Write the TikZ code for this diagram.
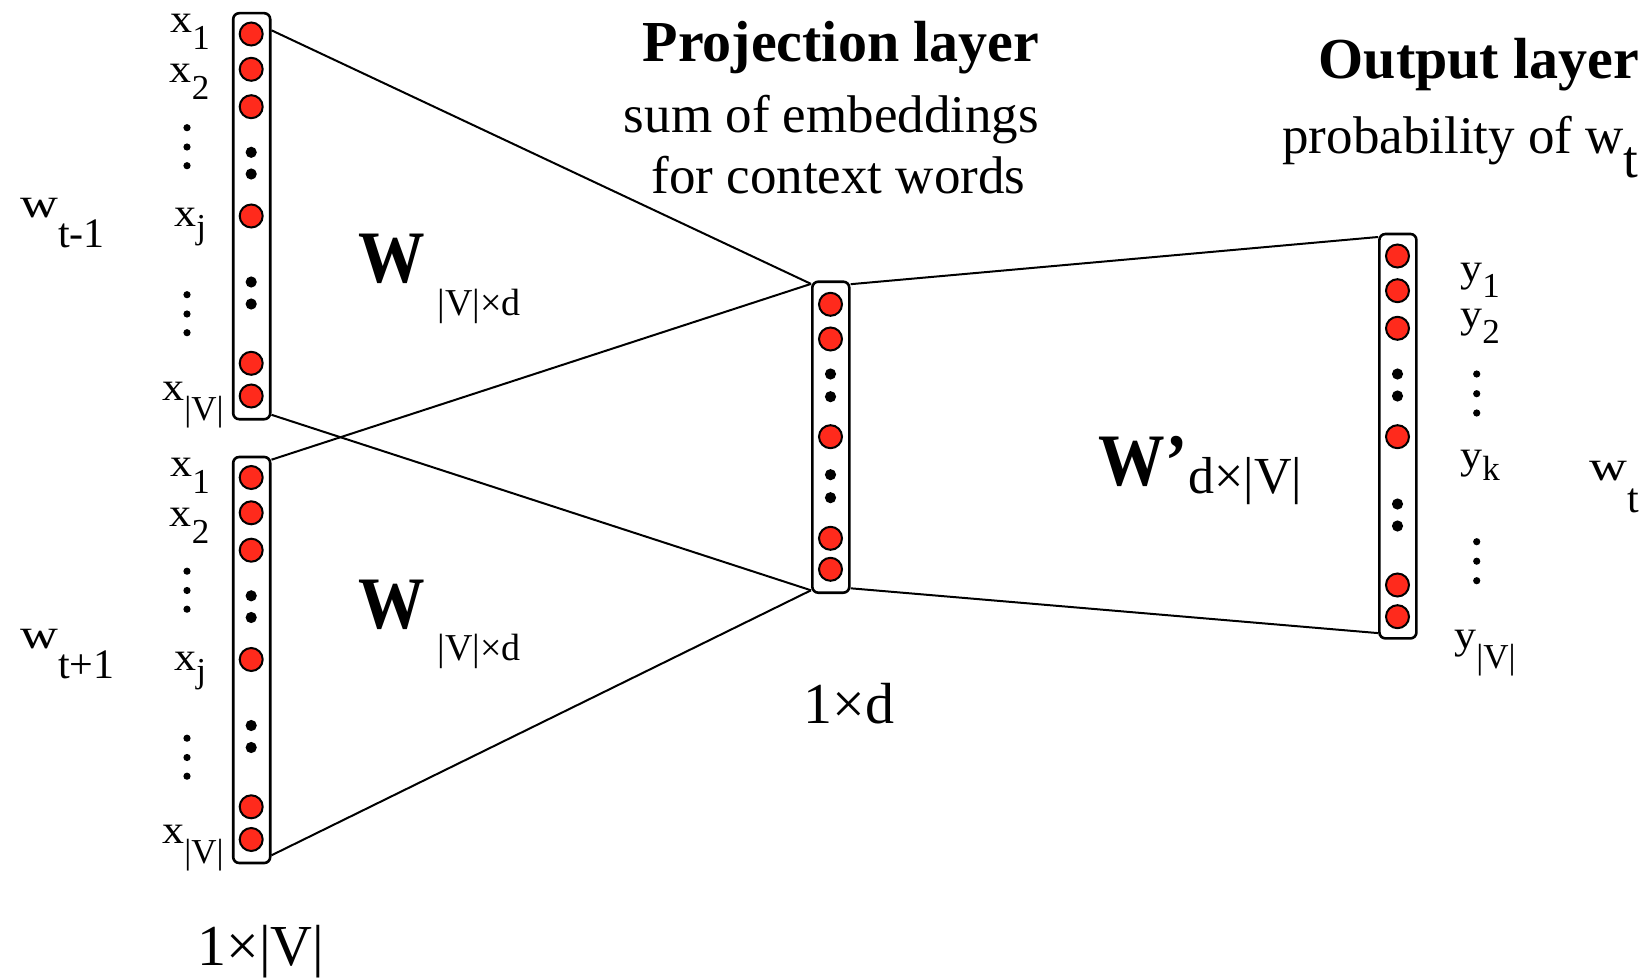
\documentclass[tikz,border=0pt]{standalone}
\usepackage{fontspec}
\usepackage{graphicx}
\setmainfont{Liberation Serif}
\usetikzlibrary{calc}
\definecolor{nred}{RGB}{255,42,28}
\newcommand{\lowsub}[2]{\raisebox{-#1}{#2}}
\newcommand{\labmain}[1]{{\fontsize{20}{20}\selectfont\scalebox{1.1}[1]{#1}}}
\newcommand{\wmain}[1]{\scalebox{1.25}[1]{#1}}
\begin{document}
\begin{tikzpicture}[x=0.5pt,y=-0.5pt,
  neuron/.style={circle, draw=black, line width=1pt, fill=nred, minimum size=11.5pt, inner sep=0},
  bdot/.style={circle, fill=black, minimum size=5.6pt, inner sep=0},
  sdot/.style={circle, fill=black, minimum size=3.6pt, inner sep=0},
  vecbox/.style={draw=black, line width=1.3pt, rounded corners=3pt, minimum width=18.5pt, inner sep=0},
  conn/.style={line width=1pt},
  lab/.style={anchor=base west, inner sep=0, font=\fontsize{17.5}{17.5}\selectfont},
  wlab/.style={anchor=base west, inner sep=0, font=\fontsize{21}{21}\selectfont},
  bigw/.style={anchor=base west, inner sep=0, font=\bfseries\fontsize{37}{37}\selectfont},
  title/.style={anchor=base, inner sep=0, font=\bfseries\fontsize{29}{29}\selectfont},
  sub/.style={anchor=base, inner sep=0, font=\fontsize{26.5}{26.5}\selectfont},
  dimlab/.style={anchor=base west, inner sep=0, font=\fontsize{29}{29}\selectfont},
]
\useasboundingbox (0,0) rectangle (1651,979);

% boxes
\node[vecbox, minimum height=203pt] (b1) at (251.7,216.2) {};
\node[vecbox, minimum height=203pt] (b2) at (251.7,660) {};
\node[vecbox, minimum height=155.5pt] (bm) at (830.8,437.2) {};
\node[vecbox, minimum height=202.2pt] (bo) at (1397.9,436.2) {};

% input units
\foreach \i/\y in {1/34,2/69.3,3/106.7,4/216,5/363.3,6/396}{
  \node[neuron] (u\i) at (251.2,\y) {};
  \node[neuron] (l\i) at (251.2,\y+443.5) {};
}
\foreach \i/\y in {1/152.3,2/174,3/282,4/304}{
  \node[bdot] (ud\i) at (251.2,\y) {};
  \node[bdot] (ld\i) at (251.2,\y+443.5) {};
}
% projection units
\foreach \i/\y in {1/304.3,2/339,3/436.7,4/538.3,5/569.3}{
  \node[neuron] (m\i) at (830.5,\y) {};
}
\foreach \i/\y in {1/374,2/396.7,3/474.7,4/497.7}{
  \node[bdot] (md\i) at (830.5,\y) {};
}
% output units
\foreach \i/\y in {1/256,2/290.7,3/328.3,4/436.7,5/585,6/616.7}{
  \node[neuron] (o\i) at (1397.5,\y) {};
}
\foreach \i/\y in {1/374,2/396,3/504,4/526}{
  \node[bdot] (od\i) at (1397.5,\y) {};
}

% label ellipsis dots
\foreach \i/\y in {1/127.7,2/147,3/165.7,4/294.7,5/314,6/332.7}{
  \node[sdot] (ue\i) at (187,\y) {};
  \node[sdot] (le\i) at (187,\y+443.5) {};
}
\foreach \i/\y in {1/374,2/393.7,3/413,4/541.7,5/561.2,6/580.7}{
  \node[sdot] (oe\i) at (1476.7,\y) {};
}

% connectors
\draw[conn] ($(b1.north east)+(0,18.4)$) -- ($(bm.north west)+(0,3.5)$);
\draw[conn] ($(b1.south east)+(0,-5.7)$) -- ($(bm.south west)+(0,-3.7)$);
\draw[conn] ($(b2.north east)+(0,4)$) -- ($(bm.north west)+(0,3.5)$);
\draw[conn] ($(b2.south east)+(0,-9)$) -- ($(bm.south west)+(0,-3.7)$);
\draw[conn] ($(bm.north east)+(0,3.8)$) -- ($(bo.north west)+(0,4.3)$);
\draw[conn] ($(bm.south east)+(0,-5.7)$) -- ($(bo.south west)+(0,-6.6)$);

% x labels
\node[lab] (ux1) at (170,33) {\labmain{x}\lowsub{8.5pt}{1}};
\node[lab] (ux2) at (169.5,83) {\labmain{x}\lowsub{8.5pt}{2}};
\node[lab] (uxj) at (174,227) {\labmain{x}\lowsub{6pt}{j}};
\node[lab] (uxv) at (162,400) {\labmain{x}\lowsub{10pt}{|V|}};
\node[lab] (lx1) at (170,476.5) {\labmain{x}\lowsub{8.5pt}{1}};
\node[lab] (lx2) at (169.5,526.5) {\labmain{x}\lowsub{8.5pt}{2}};
\node[lab] (lxj) at (174,670.5) {\labmain{x}\lowsub{6pt}{j}};
\node[lab] (lxv) at (162,843.5) {\labmain{x}\lowsub{10pt}{|V|}};

% y labels
\node[lab] (y1) at (1460,281) {\labmain{y}\lowsub{8.5pt}{1}};
\node[lab] (y2) at (1460,327) {\labmain{y}\lowsub{8.5pt}{2}};
\node[lab] (yk) at (1460,468) {\labmain{y}\lowsub{6pt}{k}};
\node[lab] (yv) at (1454,648) {\labmain{y}\lowsub{10pt}{|V|}};

% word labels
\node[wlab] (wtm) at (20,218) {\wmain{w}\lowsub{15pt}{t-1}};
\node[wlab] (wtp) at (20,648) {\wmain{w}\lowsub{15pt}{t+1}};
\node[wlab] (wt) at (1589,480) {\wmain{w}\lowsub{16pt}{t}};

% weight matrices
\node[bigw] (W1) at (358,283) {\scalebox{0.9}[1]{W}};
\node[anchor=base west, inner sep=0, font=\fontsize{19}{19}\selectfont] (W1s) at (437,315) {|V|×d};
\node[bigw] (W2) at (358,628) {\scalebox{0.9}[1]{W}};
\node[anchor=base west, inner sep=0, font=\fontsize{19}{19}\selectfont] (W2s) at (437,660) {|V|×d};
\node[bigw] (Wp) at (1098,485) {\scalebox{0.9}[1]{W’}};
\node[anchor=base west, inner sep=0, font=\fontsize{26}{26}\selectfont] (Wps) at (1188,493) {d×|V|};

% dimension labels
\node[dimlab] (dmid) at (803,723) {1×d};
\node[dimlab] (din) at (197,965) {1×|V|};

% titles
\node[title] (projt) at (841,62) {Projection layer};
\node[sub] (proj1) at (831.5,133) {sum of embeddings};
\node[sub] (proj2) at (838.5,194) {for context words};
\node[title] (outt) at (1479,79) {Output layer};
\node[anchor=base west, inner sep=0, font=\fontsize{26.5}{26.5}\selectfont] (outs) at (1282,153.5) {probability of w\lowsub{12pt}{t}};
\end{tikzpicture}
\end{document}
